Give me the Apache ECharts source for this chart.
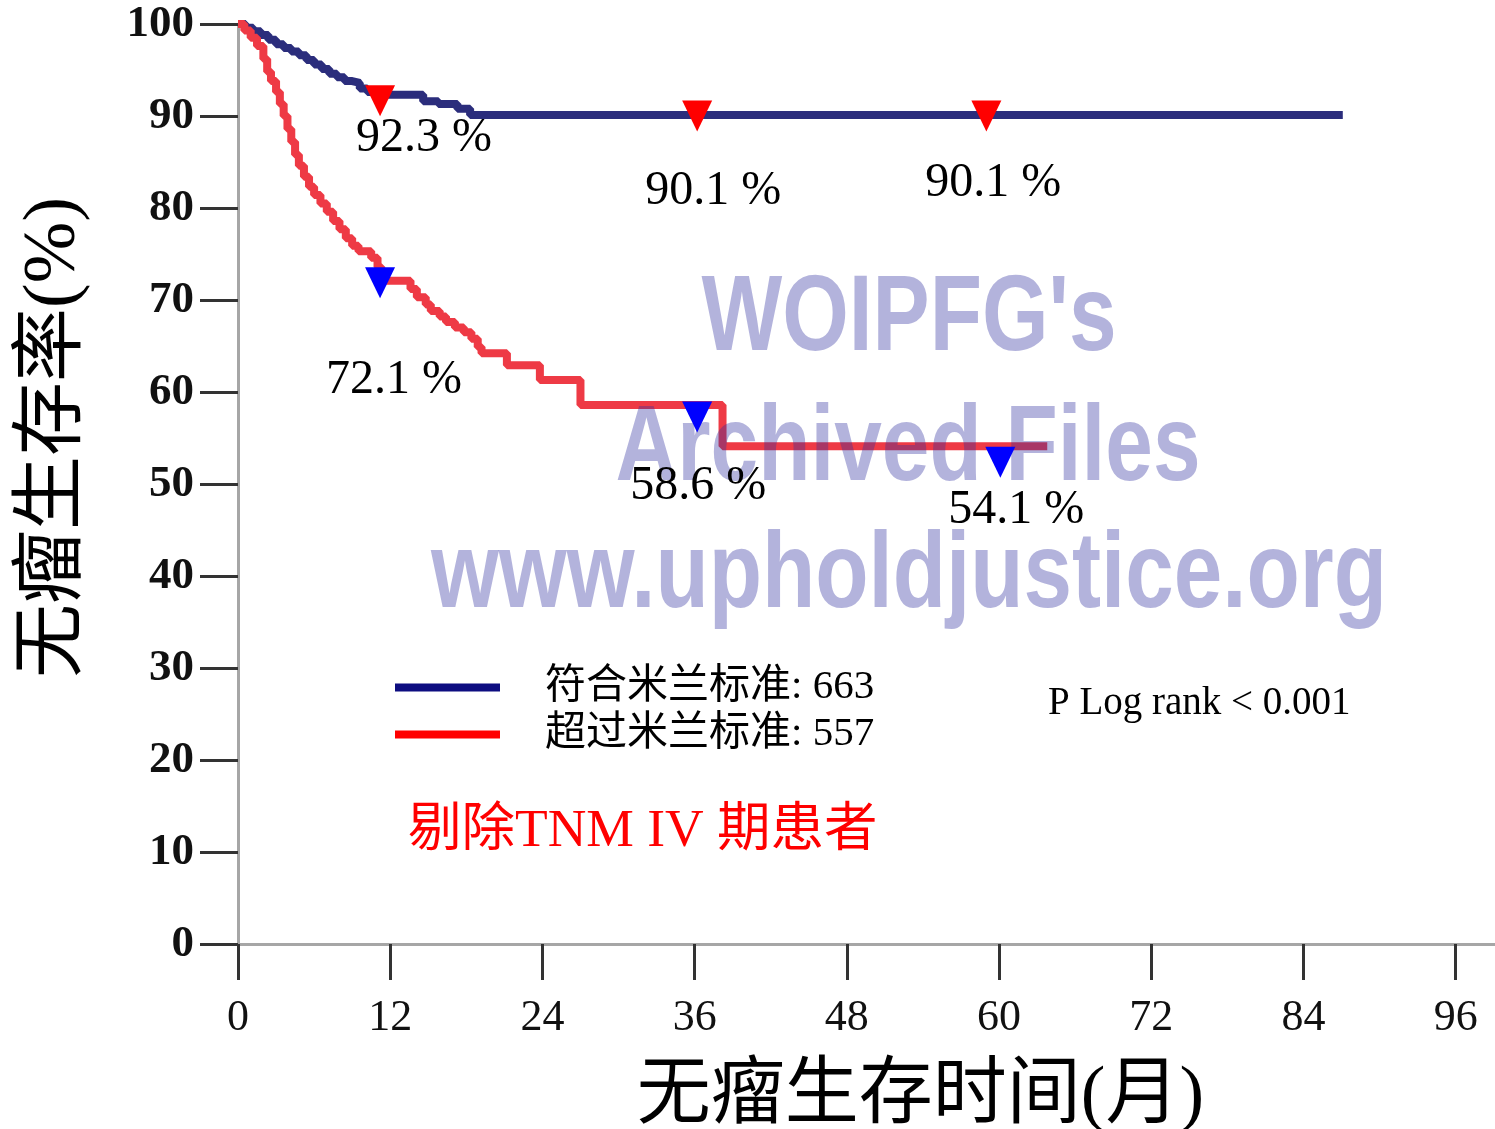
<!DOCTYPE html>
<html><head><meta charset="utf-8">
<script src="https://cdn.jsdelivr.net/npm/echarts@6/dist/echarts.min.js"></script>
<style>html,body{margin:0;padding:0;background:#fff}#c{width:1495px;height:1129px}</style>
</head><body><div id="c"></div>
<script>
const xTickValues = [0, 12, 24, 36, 48, 60, 72, 84, 96];
const seriesNames = ['符合米兰标准: 663', '超过米兰标准: 557'];
const blueTimes = [0, 0.6, 1.2, 1.8, 2.4, 3.0, 3.6, 4.2, 4.8, 5.4, 6.0, 6.6, 7.2, 7.8, 8.4, 9.0, 9.6, 10.2, 10.8, 14.6, 15.8, 17.3, 18.3, 87.1];
const blueValues = [100, 99.6, 99.2, 98.8, 98.3, 97.8, 97.4, 97.0, 96.6, 96.1, 95.6, 95.1, 94.6, 94.2, 93.8, 93.6, 93.0, 92.6, 92.3, 91.6, 91.3, 90.8, 90.1, 90.1];
const redTimes = [0, 0.5, 1.0, 1.5, 2.0, 2.3, 2.6, 3.0, 3.3, 3.6, 3.9, 4.2, 4.5, 4.8, 5.2, 5.6, 6.0, 6.5, 7.0, 7.5, 8.0, 8.5, 9.0, 9.5, 10.5, 11.0, 11.3, 13.6, 14.1, 14.8, 15.2, 15.9, 16.4, 17.1, 17.8, 18.4, 18.9, 19.2, 21.2, 23.8, 27.0, 38.2, 63.8];
const redValues = [100, 99.3, 98.5, 97.6, 96.2, 94.8, 93.8, 92.6, 91.3, 90.0, 88.6, 87.2, 85.8, 84.6, 83.4, 82.3, 81.4, 80.5, 79.6, 78.6, 77.7, 76.7, 75.9, 75.3, 74.6, 73.6, 72.1, 71.2, 70.3, 69.5, 68.8, 68.2, 67.6, 67.0, 66.5, 65.8, 64.9, 64.2, 62.9, 61.3, 58.6, 54.1, 54.1];
const redMarkerTimes = [11.2, 36.2, 59.0];
const redMarkerValues = [92.3, 90.1, 90.1];
const blueMarkerTimes = [11.2, 36.2, 60.1];
const blueMarkerValues = [72.1, 58.6, 54.1];

const serif = '"Liberation Serif", "Noto Sans CJK SC"';
const redMarkerStyle = [
  { symbolOffset: [0, 6], labelOffset: [44, 38] },
  { symbolOffset: [0, 1], labelOffset: [16, 75] },
  { symbolOffset: [0, 1], labelOffset: [7, 67] }
];
const blueMarkerStyle = [
  { symbolOffset: [0, 2], labelOffset: [14, 98] },
  { symbolOffset: [0, 12], labelOffset: [1, 70] },
  { symbolOffset: [0, 16], labelOffset: [16, 48] }
];
function markerData(times, values, styles) {
  return times.map((t, i) => ({
    value: [t, values[i]],
    symbolOffset: styles[i].symbolOffset,
    label: { offset: styles[i].labelOffset }
  }));
}
const triangleDown = 'path://M0,0L30,0L15,30Z';

const chart = echarts.init(document.getElementById('c'), null, { renderer: 'canvas' });
const wmFill = 'rgba(50,50,160,0.37)';
const wmFont = 'bold 107px "Liberation Sans"';
const markerLabel = { show: true, position: 'inside', fontSize: 48, fontFamily: serif, color: '#000', opacity: 1,
  formatter: p => p.value[1].toFixed(1) + ' %' };
chart.setOption({
  animation: false,
  backgroundColor: '#fff',
  grid: { left: 238, right: 0, top: 24, bottom: 185, containLabel: false, outerBoundsMode: 'none' },
  title: [
    { text: 'P Log rank < 0.001', left: 1048, top: 684, padding: 0,
      textStyle: { fontSize: 39, fontWeight: 'normal', fontFamily: serif, color: '#000' } },
    { text: '剔除TNM IV 期患者', left: 408, top: 805, padding: 0,
      textStyle: { fontSize: 53.5, fontWeight: 'normal', fontFamily: serif, color: '#ff0000' } }
  ],
  legend: {
    orient: 'vertical', left: 395, top: 667, padding: 0,
    itemWidth: 105, itemHeight: 8, itemGap: 6, icon: 'rect', selectedMode: false,
    textStyle: { fontSize: 41, fontFamily: serif, color: '#000', padding: [0, 0, 0, 40] },
    data: [
      { name: seriesNames[0], itemStyle: { color: '#0d0d80' } },
      { name: seriesNames[1], itemStyle: { color: '#ff0000' } }
    ]
  },
  xAxis: {
    type: 'value', min: 0, max: 99.1,
    axisLine: { show: true, lineStyle: { color: '#a6a6a6', width: 3 } },
    axisTick: { show: true, customValues: xTickValues, length: 36, lineStyle: { color: '#333', width: 3 } },
    axisLabel: { customValues: xTickValues, margin: 52, fontSize: 44, fontFamily: serif, color: '#111' },
    splitLine: { show: false },
    name: '无瘤生存时间(月)', nameLocation: 'middle', nameGap: 117,
    nameTextStyle: { fontSize: 74, fontFamily: serif, color: '#000', padding: [0, 0, 0, 108] }
  },
  yAxis: {
    type: 'value', min: 0, max: 100, interval: 10,
    axisLine: { show: true, lineStyle: { color: '#a6a6a6', width: 3 } },
    axisTick: { show: true, length: 38, lineStyle: { color: '#333', width: 3 } },
    axisLabel: { margin: 44, fontSize: 45, fontWeight: 'bold', fontFamily: serif, color: '#111' },
    splitLine: { show: false },
    name: '无瘤生存率(%)', nameLocation: 'middle', nameRotate: 90, nameGap: 146,
    nameTextStyle: { fontSize: 74, fontFamily: serif, color: '#000', padding: [0, 0, 0, 93] }
  },
  graphic: [
    { type: 'text', x: 909, y: 320, scaleX: 0.8, z: 10, silent: true,
      style: { text: "WOIPFG's", fill: wmFill, font: wmFont, align: 'center', verticalAlign: 'middle' } },
    { type: 'text', x: 908, y: 450, scaleX: 0.8, z: 10, silent: true,
      style: { text: 'Archived Files', fill: wmFill, font: wmFont, align: 'center', verticalAlign: 'middle' } },
    { type: 'text', x: 909, y: 577, scaleX: 0.815, z: 10, silent: true,
      style: { text: 'www.upholdjustice.org', fill: wmFill, font: wmFont, align: 'center', verticalAlign: 'middle' } }
  ],
  series: [
    { name: seriesNames[0], type: 'line', step: 'end', showSymbol: false, clip: false, z: 2,
      color: '#2b2d7c', lineStyle: { color: '#2b2d7c', width: 8 },
      data: blueTimes.map((t, i) => [t, blueValues[i]]) },
    { name: seriesNames[1], type: 'line', step: 'end', showSymbol: false, clip: false, z: 2,
      color: '#ee3a45', lineStyle: { color: '#ee3a45', width: 8 },
      data: redTimes.map((t, i) => [t, redValues[i]]) },
    { name: 'red markers', type: 'scatter', symbol: triangleDown, symbolSize: [30, 31], z: 20, clip: false,
      itemStyle: { color: '#ff0000', opacity: 1 }, label: markerLabel,
      data: markerData(redMarkerTimes, redMarkerValues, redMarkerStyle) },
    { name: 'blue markers', type: 'scatter', symbol: triangleDown, symbolSize: [30, 31], z: 20, clip: false,
      itemStyle: { color: '#0000ff', opacity: 1 }, label: markerLabel,
      data: markerData(blueMarkerTimes, blueMarkerValues, blueMarkerStyle) }
  ]
});
</script>
</body></html>
